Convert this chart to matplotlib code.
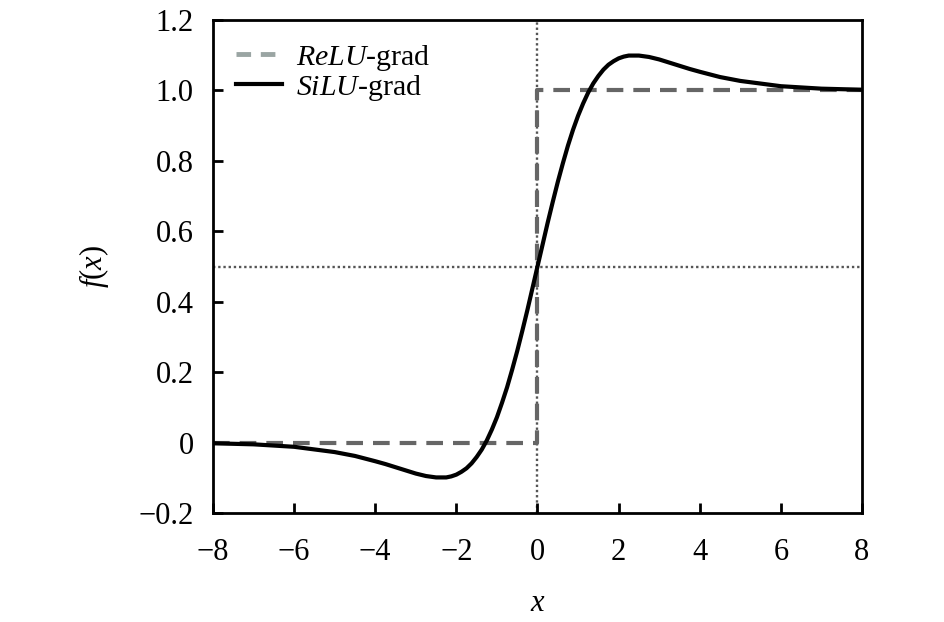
import matplotlib
matplotlib.use("Agg")
import matplotlib.pyplot as plt
from matplotlib.lines import Line2D

# SiLU gradient curve
silu_x = [-8, -7, -6, -5, -4.5, -4, -3.75, -3.5, -3.25, -3, -2.75, -2.5, -2.25, -2.125,
          -2, -1.875, -1.75, -1.625, -1.5, -1.375, -1.25, -1.125, -1, -0.875, -0.75,
          -0.625, -0.5, -0.375, -0.25, -0.125, 0, 0.125, 0.25, 0.375, 0.5, 0.625, 0.75,
          0.875, 1, 1.125, 1.25, 1.375, 1.5, 1.625, 1.75, 1.875, 2, 2.125, 2.25, 2.5,
          2.75, 3, 3.25, 3.5, 3.75, 4, 4.5, 5, 6, 7, 8]
silu_y = [-0.002, -0.005, -0.012, -0.027, -0.038, -0.053, -0.061, -0.070, -0.079,
          -0.088, -0.095, -0.099, -0.099, -0.096, -0.091, -0.083, -0.073, -0.059,
          -0.041, -0.020, 0.006, 0.037, 0.072, 0.113, 0.157, 0.207, 0.260, 0.317,
          0.376, 0.438, 0.500, 0.562, 0.624, 0.683, 0.740, 0.793, 0.843, 0.888, 0.928,
          0.963, 0.994, 1.020, 1.041, 1.059, 1.073, 1.083, 1.091, 1.096, 1.099, 1.099,
          1.095, 1.088, 1.079, 1.070, 1.061, 1.053, 1.038, 1.027, 1.012, 1.005, 1.002]

# ReLU gradient (step)
relu_x = [-8, 0, 0, 8]
relu_y = [0, 0, 1, 1]

xticks = [-8, -6, -4, -2, 0, 2, 4, 6, 8]
xticklabels = ["\u22128", "\u22126", "\u22124", "\u22122", "0", "2", "4", "6", "8"]
yticks = [-0.2, 0, 0.2, 0.4, 0.6, 0.8, 1.0, 1.2]
yticklabels = ["\u22120.2", "0", "0.2", "0.4", "0.6", "0.8", "1.0", "1.2"]

plt.rcParams['font.family'] = ['Liberation Serif', 'DejaVu Serif']
plt.rcParams['mathtext.fontset'] = 'custom'
plt.rcParams['mathtext.rm'] = 'Liberation Serif'
plt.rcParams['mathtext.it'] = 'Liberation Serif:italic'

fig = plt.figure(figsize=(9.45, 6.22), dpi=100)
ax = fig.add_axes([213/945, 1 - 513/622, (862-213)/945, (513-20)/622])

ax.axvline(0, color='#555555', lw=1.7, ls=(0, (1, 1.2)), zorder=1)
ax.axhline(0.5, color='#555555', lw=1.7, ls=(0, (1, 1.2)), zorder=1)

ax.plot(relu_x, relu_y, color='#666666', lw=3.0, ls=(0, (4, 2.4)), zorder=2)
ax.plot(silu_x, silu_y, color='black', lw=3.0, zorder=3, solid_capstyle='round')

ax.set_xlim(-8, 8)
ax.set_ylim(-0.2, 1.2)
ax.set_xticks(xticks)
ax.set_xticklabels(xticklabels)
ax.set_yticks(yticks)
ax.set_yticklabels(yticklabels)
ax.tick_params(direction='in', length=7, width=2, labelsize=22)
ax.tick_params(axis='x', pad=18)
ax.tick_params(axis='y', pad=14)
for s in ax.spines.values():
    s.set_linewidth(2)

ax.set_xlabel('$x$', fontsize=22, labelpad=16)
ax.set_ylabel('$f(x)$', fontsize=22, labelpad=20)

handles = [Line2D([], [], color='#9aa5a3', lw=3.5, ls=(0, (3, 2))),
           Line2D([], [], color='black', lw=3.0)]
labels = ['$ReLU$-grad', '$SiLU$-grad']
ax.legend(handles, labels, loc='upper left', frameon=False, fontsize=21.5,
          handlelength=1.55, handletextpad=0.45, labelspacing=0.0,
          borderaxespad=0.2, bbox_to_anchor=(0.008, 0.99))

fig.savefig('out.png', dpi=100)
